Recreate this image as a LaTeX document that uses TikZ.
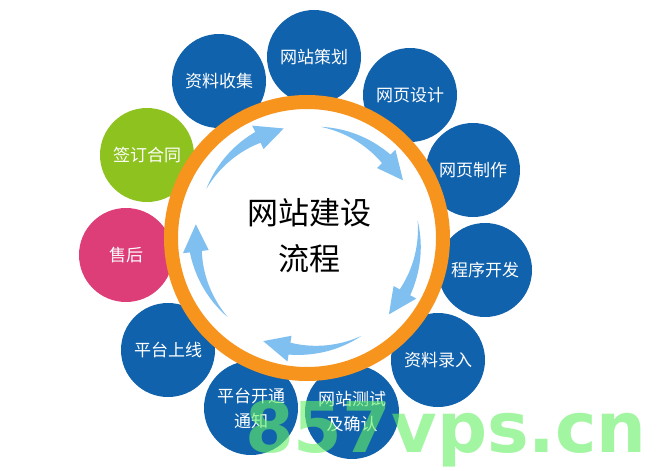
\documentclass[tikz,border=0pt]{standalone}
\usepackage{fontspec}
\setmainfont{Noto Sans CJK SC}
\newfontfamily\wmfont{DejaVu Sans}
\definecolor{cblue}{RGB}{16,98,172}
\definecolor{cgreen}{RGB}{141,194,31}
\definecolor{cpink}{RGB}{222,62,120}
\definecolor{corange}{RGB}{247,148,30}
\definecolor{carrow}{RGB}{128,192,240}
\definecolor{cwm}{RGB}{100,240,100}
\tikzset{
  bubble/.style={circle, minimum size=94pt, inner sep=0pt, text=white,
    font=\fontsize{17}{25}\selectfont, align=center},
  ringstyle/.style={circle, minimum size=272pt, inner sep=0pt, draw=corange,
    line width=14pt, fill=white},
}
\newcommand\flowarrow[1]{%
  \pgfmathsetmacro\ta{#1}%
  \pgfmathsetmacro\tb{#1-38}%
  \pgfmathsetmacro\tc{#1-52}%
  \fill[carrow] plot[domain=\ta:\tb, samples=20] (\x:{112+6*(\ta-\x)/38})
    -- (\tb:125) -- (\tc:112) -- (\tb:99)
    -- plot[domain=\tb:\ta, samples=20] (\x:{112-6*(\ta-\x)/38}) -- cycle;
}
\begin{document}
\begin{tikzpicture}[x=1pt,y=-1pt]
\useasboundingbox (0,0) rectangle (659,471);
\fill[white] (0,0) rectangle (659,471);
\node[bubble, fill=cblue]  (plan)     at (314,57)  {网站策划};
\node[bubble, fill=cblue]  (collect)  at (219,81)  {资料收集};
\node[bubble, fill=cgreen] (contract) at (147,155) {签订合同};
\node[bubble, fill=cpink]  (after)    at (126,255) {售后};
\node[bubble, fill=cblue]  (online)   at (168,350) {平台上线};
\node[bubble, fill=cblue]  (notify)   at (251,408) {平台开通\\通知};
\node[bubble, fill=cblue]  (test)     at (352,412) {网站测试\\及确认};
\node[bubble, fill=cblue]  (input)    at (438,360) {资料录入};
\node[bubble, fill=cblue]  (dev)      at (485,270) {程序开发};
\node[bubble, fill=cblue]  (make)     at (473,170) {网页制作};
\node[bubble, fill=cblue]  (design)   at (410,95)  {网页设计};
\node[ringstyle] (ring) at (307,238) {};
\begin{scope}[shift={(307,238)}, yscale=-1]
  \flowarrow{154}
  \flowarrow{83}
  \flowarrow{9}
  \flowarrow{-61}
  \flowarrow{-135}
\end{scope}
\node[font=\fontsize{31}{46}\selectfont, align=center] (title) at (309,236) {网站建设\\流程};
\node[font=\wmfont\bfseries\fontsize{70}{72}\selectfont, text=cwm, opacity=0.6,
  anchor=base west, inner sep=0pt] (wm) at (245,452) {857vps.cn};
\end{tikzpicture}
\end{document}
